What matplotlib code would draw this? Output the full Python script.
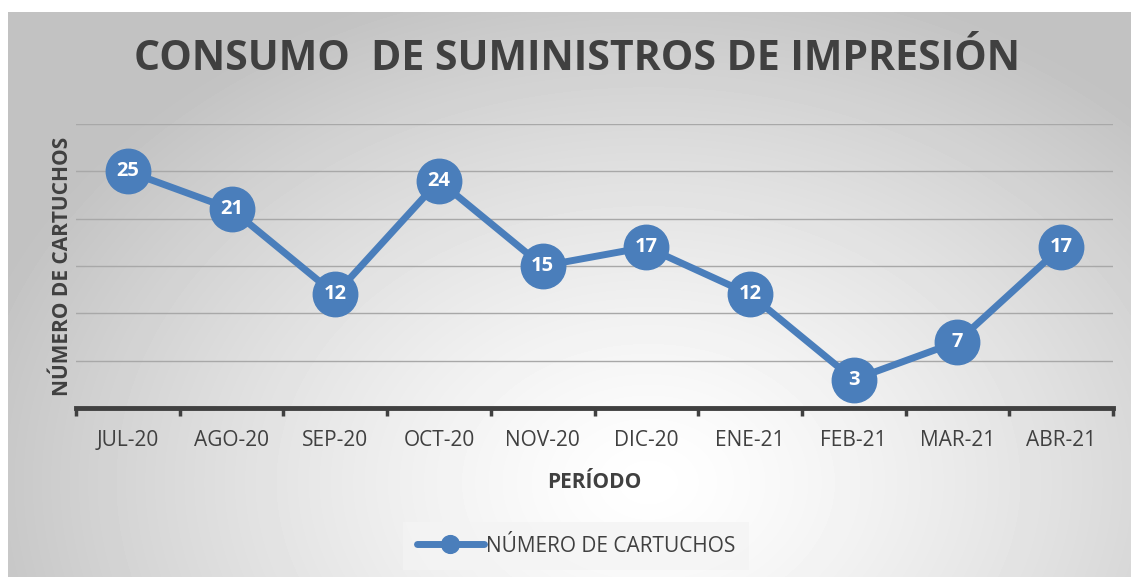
import numpy as np
import matplotlib
matplotlib.use("Agg")
import matplotlib.pyplot as plt

periodos = ["JUL-20", "AGO-20", "SEP-20", "OCT-20", "NOV-20",
            "DIC-20", "ENE-21", "FEB-21", "MAR-21", "ABR-21"]
cartuchos = [25, 21, 12, 24, 15, 17, 12, 3, 7, 17]

W, H = 1133, 577
plt.rcParams['font.family'] = ['Open Sans', 'DejaVu Sans']

fig = plt.figure(figsize=(W / 100, H / 100), dpi=100)
fig.patch.set_facecolor("white")

# radial gray background of the chart area
bg = fig.add_axes([8 / W, 0, 1 - 10 / W, 1 - 12 / H])
yy, xx = np.mgrid[0:H - 12, 0:W - 10]
cx, cy = 640, 470
r = np.sqrt(((xx - cx) / 700.0) ** 2 + ((yy - cy) / 520.0) ** 2)
val = 1.0 - 0.24 * np.clip(r, 0, 1) ** 1.3
bg.imshow(val, cmap="gray", vmin=0, vmax=1, aspect="auto", interpolation="bilinear")
bg.axis("off")

ax = fig.add_axes([76 / W, 1 - 408 / H, (1113 - 76) / W, (408 - 124) / H])
ax.patch.set_alpha(0)
x = np.arange(len(periodos))
blue = "#4a7ebb"
ax.plot(x, cartuchos, color=blue, lw=5, marker="o", ms=32,
        markerfacecolor=blue, markeredgecolor=blue, zorder=3,
        solid_capstyle="round", label="NÚMERO DE CARTUCHOS")
for xi, v in zip(x, cartuchos):
    ax.text(xi, v, str(v), color="white", fontsize=14.5, fontweight="bold",
            ha="center", va="center", zorder=4)

ax.set_xlim(-0.5, len(periodos) - 0.5)
ax.set_ylim(0, 30)
ax.set_yticks([5, 10, 15, 20, 25, 30])
ax.yaxis.grid(True, color="#a8a8a8", lw=1)
ax.set_axisbelow(True)
ax.tick_params(axis="y", left=False, labelleft=False)
ax.set_xticks(x)
ax.set_xticklabels(periodos, fontsize=15, color="#404040")
ax.tick_params(axis="x", which="major", length=0, pad=16)
ax.set_xticks(np.arange(-0.5, len(periodos), 1), minor=True)
ax.tick_params(axis="x", which="minor", length=6, width=2.5, color="#404040", direction="out")
for s in ["top", "right", "left"]:
    ax.spines[s].set_visible(False)
ax.spines["bottom"].set_color("#404040")
ax.spines["bottom"].set_linewidth(3.5)
ax.spines["bottom"].set_capstyle("projecting")

ax.set_xlabel("PERÍODO", fontsize=15, fontweight="bold", color="#404040", labelpad=15)
ax.set_ylabel("NÚMERO DE CARTUCHOS", fontsize=15, fontweight="bold", color="#404040", labelpad=2)

fig.text(577 / W, 1 - 59 / H, "CONSUMO  DE SUMINISTROS DE IMPRESIÓN",
         fontsize=29.5, fontweight="bold", color="#404040", ha="center", va="center")

leg = ax.legend(loc="center", bbox_to_anchor=((576 - 76) / (1113 - 76), (408 - 546) / (408 - 124)),
                frameon=True, fontsize=15, markerscale=0.4, handlelength=3.2,
                handletextpad=0.1, borderpad=0.65, fancybox=False)
leg.get_frame().set_facecolor("#f4f4f4")
leg.get_frame().set_edgecolor("none")
for t in leg.get_texts():
    t.set_color("#404040")

fig.savefig("out.png", dpi=100)
